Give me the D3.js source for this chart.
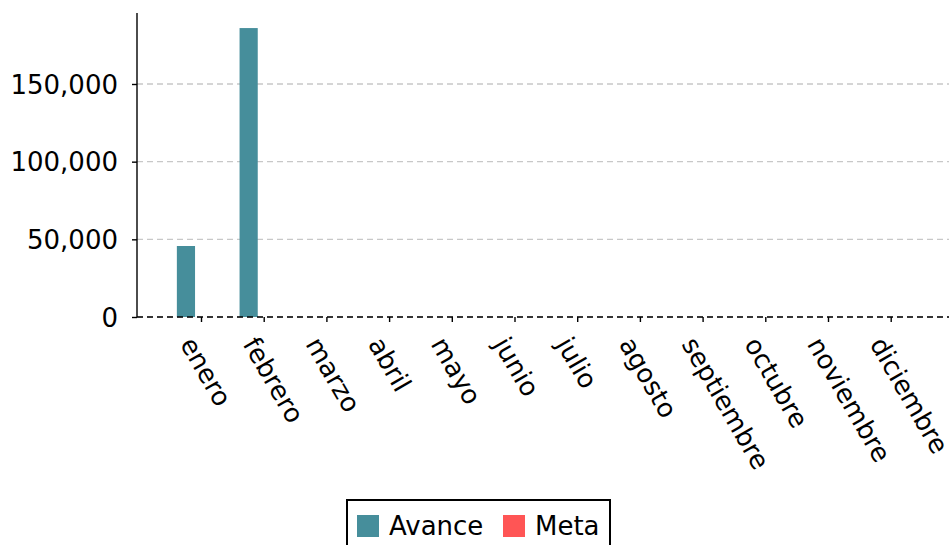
<!DOCTYPE html>
<html>
<head>
<meta charset="utf-8">
<script src="https://cdn.jsdelivr.net/npm/d3@7"></script>
<style>
  body { margin: 0; background: #fff; }
  svg { display: block; font-family: "DejaVu Sans", sans-serif; }
</style>
</head>
<body>
<svg width="949" height="545"></svg>
<script>
var months = ["enero", "febrero", "marzo", "abril", "mayo", "junio", "julio",
              "agosto", "septiembre", "octubre", "noviembre", "diciembre"];
var avance = [45700, 186000, 0, 0, 0, 0, 0, 0, 0, 0, 0, 0];
var meta = [0, 0, 0, 0, 0, 0, 0, 0, 0, 0, 0, 0];
var yTicks = [0, 50000, 100000, 150000];
var seriesNames = ["Avance", "Meta"];

var color = { "Avance": "#468e9b", "Meta": "#ff5555" };
var FONT_SIZE = 26;

var svg = d3.select("svg");
var plotLeft = 137, plotRight = 949, plotTop = 13, plotBottom = 317;

var x = d3.scaleLinear().domain([0, 11]).range([201, 890.7]);
var y = d3.scaleLinear().domain([0, 195700]).range([plotBottom, plotTop]);
var barW = x(0.29) - x(0);

/*  GRID  */
svg.append("g").selectAll("line").data(yTicks).enter().append("line")
  .attr("x1", plotLeft).attr("x2", plotRight)
  .attr("y1", function(d) { return y(d); }).attr("y2", function(d) { return y(d); })
  .attr("stroke", "#c8c8c8").attr("stroke-width", 1.4)
  .attr("stroke-dasharray", "6,4");

/*  BARS  */
svg.append("g").selectAll("rect").data(avance).enter().append("rect")
  .attr("x", function(d, i) { return x(i - 0.24) - barW / 2; })
  .attr("y", function(d) { return y(d); })
  .attr("width", barW)
  .attr("height", function(d) { return plotBottom - y(d); })
  .attr("fill", color["Avance"]);

svg.append("g").selectAll("rect").data(meta).enter().append("rect")
  .attr("x", function(d, i) { return x(i + 0.24) - barW / 2; })
  .attr("y", function(d) { return y(d); })
  .attr("width", barW)
  .attr("height", function(d) { return plotBottom - y(d); })
  .attr("fill", color["Meta"]);

/*  ZERO LINE  */
svg.append("line")
  .attr("x1", plotLeft).attr("x2", plotRight)
  .attr("y1", y(0)).attr("y2", y(0))
  .attr("stroke", "#000").attr("stroke-width", 1.6)
  .attr("stroke-dasharray", "6,4");

/*  Y AXIS  */
var yAxis = svg.append("g")
  .attr("transform", "translate(" + plotLeft + ",0)")
  .call(d3.axisLeft(y).tickValues(yTicks).tickSize(5).tickPadding(14)
    .tickFormat(d3.format(",")));
yAxis.select(".domain").attr("d", "M0," + plotTop + "V" + plotBottom).attr("stroke-width", 1.4);
yAxis.selectAll(".tick line").attr("stroke-width", 1.4);
yAxis.selectAll("text").attr("font-size", FONT_SIZE).attr("fill", "#000")
  .attr("font-family", "DejaVu Sans").attr("dy", "0.35em");

/*  X AXIS  */
var xAxis = svg.append("g")
  .attr("transform", "translate(0," + plotBottom + ")")
  .call(d3.axisBottom(x).tickValues(d3.range(months.length)).tickSize(5)
    .tickFormat(function(i) { return months[i]; }));
xAxis.select(".domain").remove();
xAxis.selectAll(".tick line").attr("stroke-width", 1.4);
xAxis.selectAll("text")
  .attr("font-size", FONT_SIZE).attr("fill", "#000").attr("font-family", "DejaVu Sans")
  .attr("text-anchor", "start")
  .attr("x", 0).attr("y", 0).attr("dy", 0)
  .attr("transform", "translate(-22,27) rotate(60)");

/*  LEGEND  */
var legend = svg.append("g");
legend.append("rect")
  .attr("x", 347).attr("y", 500).attr("width", 263).attr("height", 60)
  .attr("fill", "#fff").attr("stroke", "#000").attr("stroke-width", 2);
var items = legend.selectAll("g.item").data(seriesNames).enter().append("g")
  .attr("class", "item")
  .attr("transform", function(d, i) { return "translate(" + [357, 503][i] + ",515)"; });
items.append("rect").attr("width", 22).attr("height", 22)
  .attr("fill", function(d) { return color[d]; });
items.append("text").attr("x", 32).attr("y", 20)
  .attr("font-size", FONT_SIZE).text(function(d) { return d; });
</script>
</body>
</html>
